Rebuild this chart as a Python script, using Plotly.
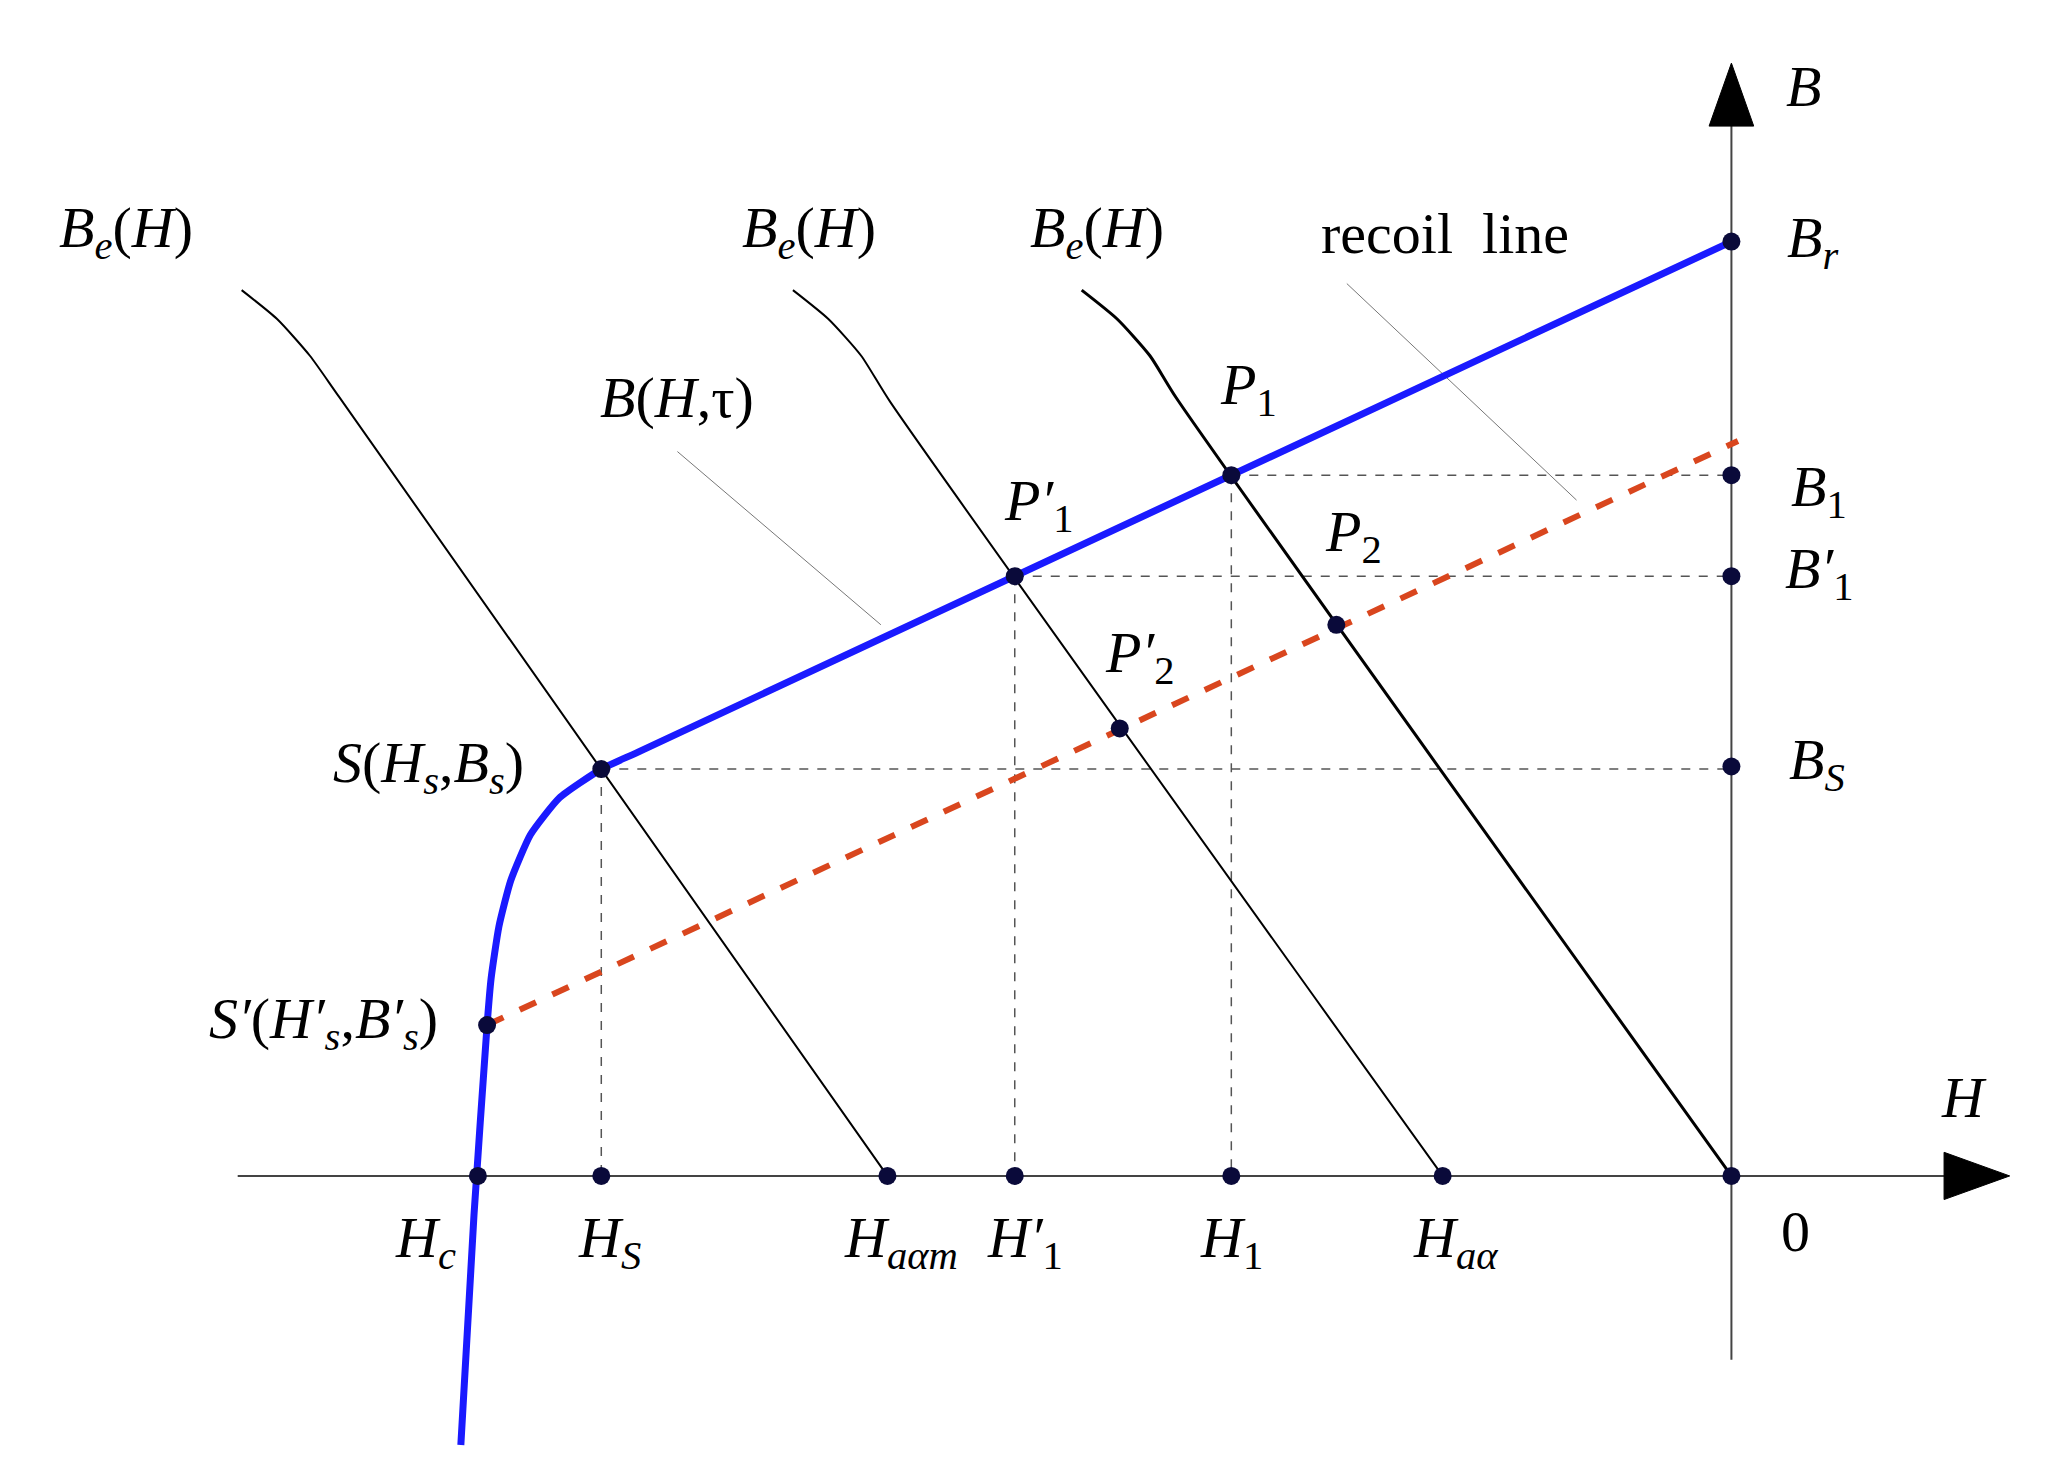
import plotly.graph_objects as go

# Diagram coordinates (schematic units, y downward)
blue_x = [1313, 480, 452, 420, 398, 383, 374, 368, 365, 355, 345]
blue_y = [178, 567, 580, 602, 630, 665, 700, 740, 775, 920, 1095]
red_x = [365, 1318]
red_y = [775, 330]
load1_x = [178, 205, 230, 252, 670]; load1_y = [215, 237, 265, 296, 890]
load2_x = [598, 625, 650, 672, 1093]; load2_y = [215, 237, 265, 300, 890]
load3_x = [818, 845, 870, 890, 1313]; load3_y = [215, 237, 265, 297, 890]
pts_x = [1313, 1313, 1313, 1313, 1313, 932, 767, 452, 365, 1012, 847, 358, 452, 670, 767, 932, 1093]
pts_y = [890, 178, 356, 433, 578, 356, 433, 580, 775, 470, 549, 890, 890, 890, 890, 890, 890]
dash_segs = [((932, 356), (1313, 356)), ((932, 356), (932, 890)),
             ((767, 433), (1313, 433)), ((767, 433), (767, 890)),
             ((452, 580), (1313, 580)), ((452, 580), (452, 890))]
labels = [
    (90, 170, "<i>B<sub>e</sub></i>(<i>H</i>)"), (610, 170, "<i>B<sub>e</sub></i>(<i>H</i>)"),
    (830, 170, "<i>B<sub>e</sub></i>(<i>H</i>)"), (1095, 172, "recoil  line"),
    (510, 297, "<i>B</i>(<i>H</i>,τ)"), (945, 290, "<i>P</i><sub>1</sub>"),
    (785, 378, "<i>P′</i><sub>1</sub>"), (1025, 402, "<i>P</i><sub>2</sub>"),
    (862, 494, "<i>P′</i><sub>2</sub>"), (320, 578, "<i>S</i>(<i>H<sub>s</sub></i>,<i>B<sub>s</sub></i>)"),
    (240, 773, "<i>S′</i>(<i>H′<sub>s</sub></i>,<i>B′<sub>s</sub></i>)"),
    (318, 940, "<i>H<sub>c</sub></i>"), (458, 940, "<i>H<sub>S</sub></i>"),
    (680, 940, "<i>H<sub>aαm</sub></i>"), (775, 940, "<i>H′</i><sub>1</sub>"),
    (932, 940, "<i>H</i><sub>1</sub>"), (1103, 940, "<i>H<sub>aα</sub></i>"),
    (1362, 932, "0"), (1368, 60, "<i>B</i>"), (1375, 178, "<i>B<sub>r</sub></i>"),
    (1380, 368, "<i>B</i><sub>1</sub>"), (1380, 430, "<i>B′</i><sub>1</sub>"),
    (1378, 576, "<i>B<sub>S</sub></i>"), (1490, 830, "<i>H</i>"),
]

fig = go.Figure()
fig.add_trace(go.Scatter(x=[175, 1490], y=[890, 890], mode="lines", line=dict(color="#444", width=2), hoverinfo="skip"))
fig.add_trace(go.Scatter(x=[1313, 1313], y=[1030, 80], mode="lines", line=dict(color="#444", width=2), hoverinfo="skip"))
fig.add_trace(go.Scatter(x=[1475, 1525, 1475, 1475], y=[872, 890, 908, 872], fill="toself", fillcolor="black", mode="lines", line=dict(color="black", width=1)))
fig.add_trace(go.Scatter(x=[1296, 1313, 1330, 1296], y=[90, 42, 90, 90], fill="toself", fillcolor="black", mode="lines", line=dict(color="black", width=1)))
for (a, b) in dash_segs:
    fig.add_trace(go.Scatter(x=[a[0], b[0]], y=[a[1], b[1]], mode="lines", line=dict(color="#555", width=1.5, dash="dash")))
fig.add_trace(go.Scatter(x=[510, 665], y=[338, 470], mode="lines", line=dict(color="#777", width=1)))
fig.add_trace(go.Scatter(x=[1020, 1195], y=[210, 375], mode="lines", line=dict(color="#777", width=1)))
fig.add_trace(go.Scatter(x=load1_x, y=load1_y, mode="lines", line=dict(color="black", width=2, shape="spline", smoothing=0.6)))
fig.add_trace(go.Scatter(x=load2_x, y=load2_y, mode="lines", line=dict(color="black", width=2, shape="spline", smoothing=0.6)))
fig.add_trace(go.Scatter(x=load3_x, y=load3_y, mode="lines", line=dict(color="black", width=3, shape="spline", smoothing=0.6)))
fig.add_trace(go.Scatter(x=red_x, y=red_y, mode="lines", line=dict(color="#d9461e", width=6, dash="dash")))
fig.add_trace(go.Scatter(x=blue_x, y=blue_y, mode="lines", line=dict(color="#1a1aff", width=7, shape="spline", smoothing=0.5)))
fig.add_trace(go.Scatter(x=pts_x, y=pts_y, mode="markers", marker=dict(color="#0a0a3a", size=18)))
for x, y, t in labels:
    fig.add_annotation(x=x, y=y, text=t, showarrow=False,
                       font=dict(family="Liberation Serif", size=58, color="black"))
fig.update_xaxes(range=[0, 1574], visible=False)
fig.update_yaxes(range=[1124, 0], visible=False)
fig.update_layout(width=2066, height=1475, margin=dict(l=0, r=0, t=0, b=0),
                  showlegend=False, plot_bgcolor="white", paper_bgcolor="white")
fig.write_html("out.html")
